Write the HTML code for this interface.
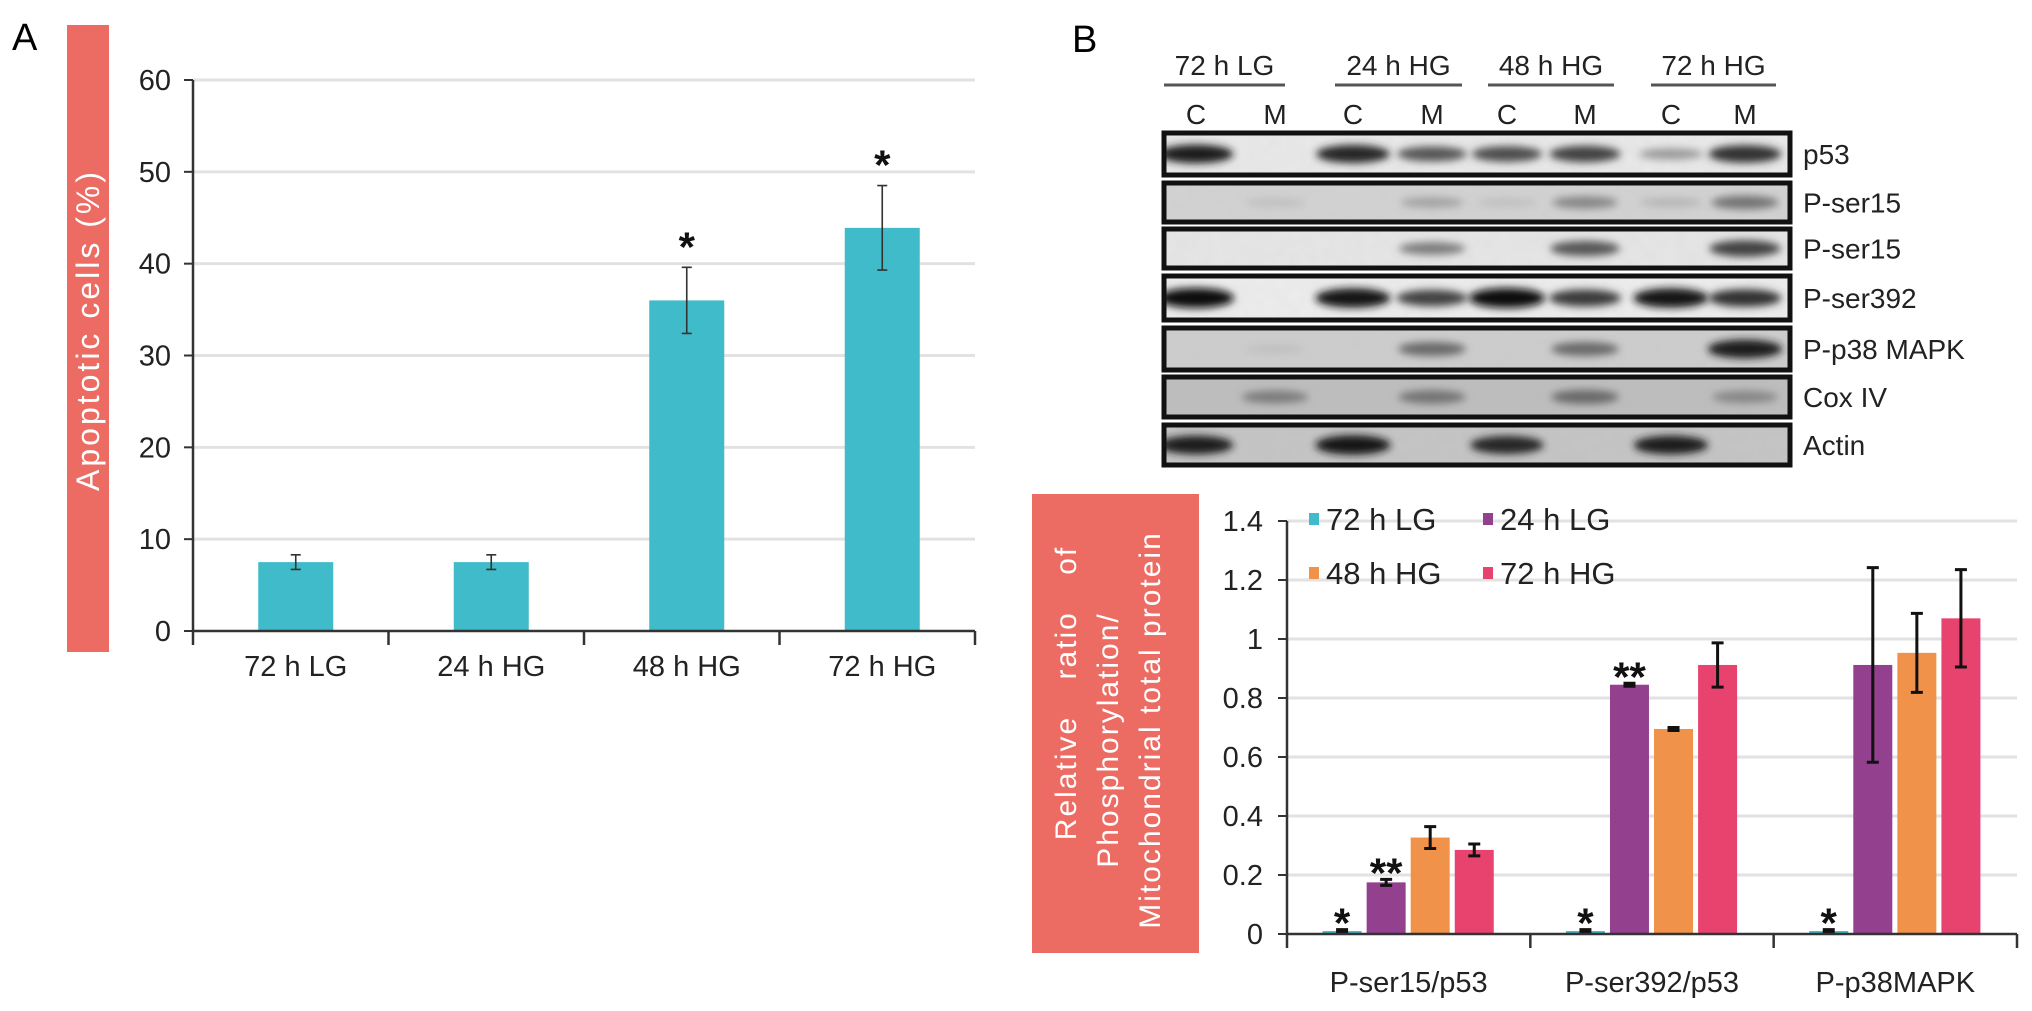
<!DOCTYPE html>
<html><head><meta charset="utf-8"><title>Apoptosis and p53 phosphorylation figure</title>
<style>
html,body{margin:0;padding:0;background:#fff;}
svg{display:block;font-family:"Liberation Sans",Arial,sans-serif;}
</style></head>
<body>
<svg id="fig" width="2032" height="1011" viewBox="0 0 2032 1011" xmlns="http://www.w3.org/2000/svg">
<defs id="defs">
<filter id="blur" x="-50%" y="-100%" width="200%" height="300%"><feGaussianBlur stdDeviation="4"/></filter>
<filter id="noise" x="0" y="0" width="1" height="1" filterUnits="objectBoundingBox"><feTurbulence type="fractalNoise" baseFrequency="0.08" numOctaves="2" seed="3"/><feColorMatrix type="matrix" values="0 0 0 0 0.5 0 0 0 0 0.5 0 0 0 0 0.5 0 0 0 0.12 0"/></filter>
</defs>
<!-- Panel A static -->
<text x="12" y="50" font-size="38">A</text>
<rect x="67" y="25" width="42" height="627" fill="#ec6b63"/>
<text transform="translate(99,330) rotate(-90)" text-anchor="middle" font-size="32" fill="#fff" letter-spacing="3">Apoptotic cells (%)</text>
<g id="chartA"></g>
<!-- Panel B static -->
<text x="1072" y="52" font-size="38">B</text>
<g id="blot"></g>
<rect x="1032" y="494" width="167" height="459" fill="#ec6b63"/>
<g fill="#fff" font-size="30" letter-spacing="2">
<text transform="translate(1076,693) rotate(-90)" text-anchor="middle" word-spacing="26">Relative ratio of</text>
<text transform="translate(1118,740) rotate(-90)" text-anchor="middle">Phosphorylation/</text>
<text transform="translate(1160,730) rotate(-90)" text-anchor="middle">Mitochondrial total protein</text>
</g>
<g id="chartB"></g>
</svg>
<script>
// ---------- Panel A data ----------
const aCategories = ["72 h LG", "24 h HG", "48 h HG", "72 h HG"];
const aValues = [7.5, 7.5, 36.0, 43.9];
const aErrors = [0.8, 0.8, 3.6, 4.6];
const aStars = ["", "", "*", "*"];
const aTicks = [0, 10, 20, 30, 40, 50, 60];

// ---------- Panel B data ----------
const bCategories = ["P-ser15/p53", "P-ser392/p53", "P-p38MAPK"];
const bSeriesNames = ["72 h LG", "24 h LG", "48 h HG", "72 h HG"];
const bLG72 = [0.01, 0.01, 0.01];
const bLG24 = [0.175, 0.845, 0.912];
const bHG48 = [0.327, 0.695, 0.953];
const bHG72 = [0.285, 0.912, 1.07];
const bErrLG72 = [0.005, 0.005, 0.005];
const bErrLG24 = [0.01, 0.005, 0.33];
const bErrHG48 = [0.037, 0.005, 0.134];
const bErrHG72 = [0.02, 0.075, 0.165];
const bStarsLG72 = ["*", "*", "*"];
const bStarsLG24 = ["**", "**", ""];
const bTicks = [0, 0.2, 0.4, 0.6, 0.8, 1, 1.2, 1.4];

// ---------- Blot data ----------
const blotGroups = ["72 h LG", "24 h HG", "48 h HG", "72 h HG"];
const blotRows = ["p53", "P-ser15", "P-ser15", "P-ser392", "P-p38 MAPK", "Cox IV", "Actin"];
const blotBg = ["#e9e9e9", "#d2d2d2", "#e6e6e6", "#ededed", "#cdcdcd", "#bdbdbd", "#c4c4c4"];
const blotIntensity = [
  [0.9, 0, 0.85, 0.6, 0.65, 0.7, 0.25, 0.8],
  [0, 0.05, 0, 0.2, 0.05, 0.35, 0.1, 0.45],
  [0, 0, 0, 0.4, 0, 0.6, 0, 0.7],
  [1, 0, 0.95, 0.7, 1, 0.75, 0.95, 0.8],
  [0, 0.05, 0, 0.5, 0, 0.5, 0, 0.9],
  [0, 0.4, 0, 0.45, 0, 0.5, 0, 0.35],
  [0.9, 0, 0.95, 0, 0.85, 0, 0.9, 0]
];

const NS = "http://www.w3.org/2000/svg";
function mk(parent, tag, attrs, text) {
  const e = document.createElementNS(NS, tag);
  for (const k in attrs) e.setAttribute(k, attrs[k]);
  if (text !== undefined) e.textContent = text;
  parent.appendChild(e);
  return e;
}

// ---------- Panel A ----------
(function () {
  const g = document.getElementById("chartA");
  const x0 = 193, x1 = 975, yTop = 80, yBot = 631, vmax = 60;
  const y = v => yBot - (v / vmax) * (yBot - yTop);
  const cw = (x1 - x0) / aCategories.length;
  const xc = i => x0 + cw * (i + 0.5) + 5;
  aTicks.forEach(t => {
    if (t > 0) {
      const gl = mk(g, "line", {x1: x0, x2: x1, y1: y(t), y2: y(t), stroke: "#e2e2e2", "stroke-width": 3});
      
      
    }
    const tk = mk(g, "line", {x1: x0 - 9, x2: x0, y1: y(t), y2: y(t), stroke: "#333", "stroke-width": 2});
    
    
    const tl = mk(g, "text", {x: x0 - 22, y: y(t) + 10, "text-anchor": "end", "font-size": 29, fill: "#222"}, String(t));
    
    
  });
  aCategories.forEach((c, i) => {
    const bw = 75, cx = xc(i);
    const bar = mk(g, "rect", {x: cx - bw / 2, y: y(aValues[i]), width: bw, height: yBot - y(aValues[i]), fill: "#3fbbca"});
    
    
    const hi = y(aValues[i] + aErrors[i]), lo = y(aValues[i] - aErrors[i]);
    const eb = mk(g, "path", {d: `M${cx},${hi}V${lo}M${cx - 5},${hi}H${cx + 5}M${cx - 5},${lo}H${cx + 5}`, stroke: "#333", "stroke-width": 1.6, fill: "none"});
    
    
    if (aStars[i]) {
      const s = mk(g, "text", {x: cx, y: hi - 6, "text-anchor": "middle", "font-size": 42, "font-weight": "bold", fill: "#111"}, aStars[i]);
      
      
    }
    const lb = mk(g, "text", {x: cx, y: 676, "text-anchor": "middle", "font-size": 29, fill: "#222"}, c);
    
    
  });
  const ax = mk(g, "path", {d: `M${x0},${yTop}V${yBot}H${x1}`, stroke: "#333", "stroke-width": 2.5, fill: "none"});
  
  
  for (let i = 0; i <= aCategories.length; i++) {
    const tx = x0 + cw * i;
    const t = mk(g, "line", {x1: tx, x2: tx, y1: yBot, y2: yBot + 14, stroke: "#333", "stroke-width": 2.5});
    
    
  }
})();

// ---------- Blot ----------
(function () {
  const g = document.getElementById("blot");
  const defs = document.getElementById("defs");
  const left = 1164, right = 1790;
  const rowY = [[133, 175], [183, 222], [229, 268], [276, 320], [328, 370], [377, 417], [425, 465]];
  const laneX = [1196, 1275, 1353, 1432, 1507, 1585, 1671, 1745];
  const grpX = [[1164, 1285], [1335, 1462], [1488, 1614], [1651, 1776]];
  blotGroups.forEach((n, i) => {
    const t = mk(g, "text", {x: (grpX[i][0] + grpX[i][1]) / 2, y: 75, "text-anchor": "middle", "font-size": 28, fill: "#222"}, n);
    
    
    const u = mk(g, "line", {x1: grpX[i][0], x2: grpX[i][1], y1: 85, y2: 85, stroke: "#555", "stroke-width": 3});
    
    
  });
  laneX.forEach((lx, i) => {
    const t = mk(g, "text", {x: lx, y: 124, "text-anchor": "middle", "font-size": 28, fill: "#222"}, i % 2 ? "M" : "C");
    
    
  });
  blotRows.forEach((name, r) => {
    const [y0, y1] = rowY[r];
    const cp = mk(defs, "clipPath", {id: "clip" + r});
    mk(cp, "rect", {x: left, y: y0, width: right - left, height: y1 - y0});
    const bg = mk(g, "rect", {x: left, y: y0, width: right - left, height: y1 - y0, fill: blotBg[r]});
    
    
    const nz = mk(g, "rect", {x: left + 3, y: y0 + 3, width: right - left - 6, height: y1 - y0 - 6, filter: "url(#noise)"});
    
    
    const bandG = mk(g, "g", {"clip-path": "url(#clip" + r + ")"});
    
    
    blotIntensity[r].forEach((v, i) => {
      if (v <= 0) return;
      const sh = Math.round(200 - v * 190);
      const b = mk(bandG, "ellipse", {cx: laneX[i], cy: (y0 + y1) / 2, rx: 30 + v * 8, ry: 4 + v * 6, fill: `rgb(${sh},${sh},${sh})`, filter: "url(#blur)"});
      
      
    });
    const fr = mk(g, "rect", {x: left, y: y0, width: right - left, height: y1 - y0, fill: "none", stroke: "#111", "stroke-width": 5});
    
    
    const lb = mk(g, "text", {x: 1803, y: (y0 + y1) / 2 + 10, "font-size": 28, fill: "#222"}, name);
    
    
  });
})();

// ---------- Panel B ----------
(function () {
  const g = document.getElementById("chartB");
  const x0 = 1287, x1 = 2017, yTop = 521, yBot = 934, vmax = 1.4;
  const y = v => yBot - (v / vmax) * (yBot - yTop);
  const cw = (x1 - x0) / bCategories.length;
  const colors = ["#3fbbca", "#93408f", "#f0924a", "#e8436f"];
  const series = [bLG72, bLG24, bHG48, bHG72];
  const errs = [bErrLG72, bErrLG24, bErrHG48, bErrHG72];
  const stars = [bStarsLG72, bStarsLG24, null, null];
  bTicks.forEach(t => {
    if (t > 0) {
      const gl = mk(g, "line", {x1: x0, x2: x1, y1: y(t), y2: y(t), stroke: "#e2e2e2", "stroke-width": 3});
      
      
    }
    const tk = mk(g, "line", {x1: x0 - 9, x2: x0, y1: y(t), y2: y(t), stroke: "#333", "stroke-width": 2});
    
    
    const tl = mk(g, "text", {x: x0 - 24, y: y(t) + 10, "text-anchor": "end", "font-size": 29, fill: "#222"}, String(t));
    
    
  });
  const bw = 39, offs = [55, 99, 143, 187];
  bCategories.forEach((c, i) => {
    const gx = x0 + cw * i;
    series.forEach((s, k) => {
      const cx = gx + offs[k] * (cw / 243);
      const v = s[i];
      const bar = mk(g, "rect", {x: cx - bw / 2, y: y(v), width: bw, height: yBot - y(v), fill: colors[k]});
      
      
      const hi = y(v + errs[k][i]), lo = y(Math.max(0, v - errs[k][i]));
      const eb = mk(g, "path", {d: `M${cx},${hi}V${lo}M${cx - 6},${hi}H${cx + 6}M${cx - 6},${lo}H${cx + 6}`, stroke: "#111", "stroke-width": 3, fill: "none"});
      
      
      if (stars[k] && stars[k][i]) {
        const st = mk(g, "text", {x: cx, y: hi + 8, "text-anchor": "middle", "font-size": 42, "font-weight": "bold", fill: "#111"}, stars[k][i]);
        
        
      }
    });
    const lb = mk(g, "text", {x: gx + cw / 2, y: 992, "text-anchor": "middle", "font-size": 29, fill: "#222"}, c);
    
    
  });
  const ax = mk(g, "path", {d: `M${x0},${yTop}V${yBot}H${x1}`, stroke: "#333", "stroke-width": 2.5, fill: "none"});
  
  
  for (let i = 0; i <= bCategories.length; i++) {
    const tx = x0 + cw * i;
    const t = mk(g, "line", {x1: tx, x2: tx, y1: yBot, y2: yBot + 14, stroke: "#333", "stroke-width": 2.5});
    
    
  }
  const legPos = [[1314, 519], [1488, 519], [1314, 573], [1488, 573]];
  bSeriesNames.forEach((n, k) => {
    const [lx, ly] = legPos[k];
    const sq = mk(g, "rect", {x: lx - 5, y: ly - 6, width: 10, height: 12, fill: colors[k]});
    
    
    const t = mk(g, "text", {x: lx + 12, y: ly + 11, "font-size": 31, fill: "#222"}, n);
    
    
  });
})();
</script>
</body></html>
